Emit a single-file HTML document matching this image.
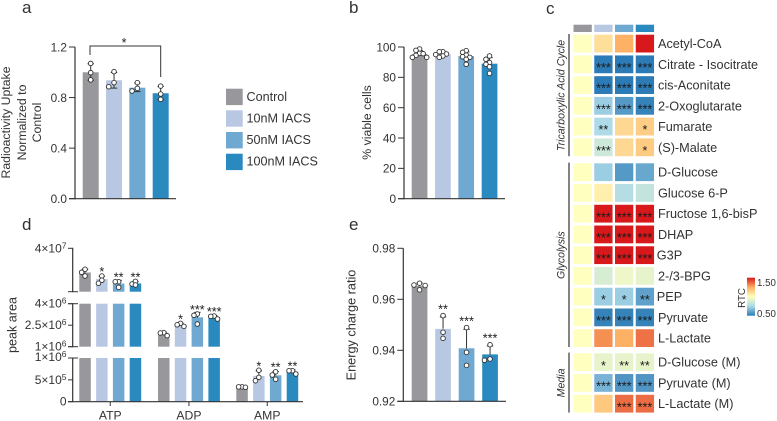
<!DOCTYPE html>
<html lang="en">
<head>
<meta charset="utf-8">
<title>IACS metabolic figure</title>
<style>
html,body{margin:0;padding:0;background:#fff;width:777px;height:421px;overflow:hidden}
svg{display:block;font-family:"Liberation Sans",sans-serif;fill:#333}
</style>
</head>
<body>
<svg id="fig" xmlns="http://www.w3.org/2000/svg" width="777" height="421" viewBox="0 0 777 421">
  <defs>
    <linearGradient id="rtc-gradient" x1="0" y1="1" x2="0" y2="0">
      <stop offset="0" stop-color="#2c7bb6"/>
      <stop offset="0.25" stop-color="#abd9e9"/>
      <stop offset="0.5" stop-color="#ffffbf"/>
      <stop offset="0.75" stop-color="#fdae61"/>
      <stop offset="1" stop-color="#d7191c"/>
    </linearGradient>
  </defs>
  <text x="22" y="13" font-size="17">a</text>
  <text x="349" y="13" font-size="17">b</text>
  <text x="546" y="14" font-size="17">c</text>
  <text x="22" y="230" font-size="17">d</text>
  <text x="349" y="230" font-size="17">e</text>

  <g font-size="12.3" text-anchor="middle">
    <text transform="translate(10,122.5) rotate(-90)">Radioactivity Uptake</text>
    <text transform="translate(26,122.5) rotate(-90)">Normalized to</text>
    <text transform="translate(41,122.5) rotate(-90)">Control</text>
  </g>
  <text font-size="12.3" text-anchor="middle" transform="translate(371,122.5) rotate(-90)">% viable cells</text>
  <text font-size="12.6" text-anchor="middle" transform="translate(16.5,325) rotate(-90)">peak area</text>
  <text font-size="12.7" text-anchor="middle" transform="translate(355.5,325) rotate(-90)">Energy charge ratio</text>

  <g font-size="12.6">
    <g><rect x="226" y="88.7" width="16.7" height="16.4" fill="#98979c"/><text x="246.5" y="101">Control</text></g>
    <g><rect x="226" y="110.3" width="16.7" height="16.4" fill="#b9c8e2"/><text x="246.5" y="122.5">10nM IACS</text></g>
    <g><rect x="226" y="132" width="16.7" height="16.4" fill="#6fa8d1"/><text x="246.5" y="144">50nM IACS</text></g>
    <g><rect x="226" y="153.7" width="16.7" height="16.4" fill="#2a8abf"/><text x="246.5" y="165.5">100nM IACS</text></g>
  </g>

  <g>
    <rect x="747" y="277.7" width="8" height="38" fill="url(#rtc-gradient)"/>
    <text x="757" y="286" font-size="9.7">1.50</text>
    <text x="757" y="317" font-size="9.7">0.50</text>
    <text font-size="9.7" text-anchor="middle" transform="translate(745,298) rotate(-90)">RTC</text>
  </g>
  <g id="layer"></g>
</svg>
<script>
const groupNames = ['Control', '10nM IACS', '50nM IACS', '100nM IACS'];

// Panel a
const aTicks = [0, 0.4, 0.8, 1.2];
const aMeans = [1.0, 0.937, 0.878, 0.834];
const aPoints = [
  [1.07, 0.997, 0.94],
  [0.886, 1.005, 0.918],
  [0.852, 0.918, 0.873],
  [0.891, 0.828, 0.786]
];

// Panel b
const bTicks = [0, 20, 40, 60, 80, 100];
const bMeans = [95.3, 95.3, 94, 89];
const bPoints = [
  [97.8, 98.7, 95.8, 93.2, 95.6, 93.2, 94.5],
  [94.1, 96.9, 96.9, 95.4, 93.2, 95],
  [94.7, 97.6, 96.5, 93.2, 93.6, 91.9, 88.6],
  [94.1, 89.7, 91.9, 88.6, 82.6, 87]
];

// Panel d
const dMetabolites = ['ATP', 'ADP', 'AMP'];
const dMeans = [
  [19.9e6, 14.5e6, 10.7e6, 10.9e6],
  [1.88e6, 2.53e6, 3.05e6, 3.07e6],
  [3.36e5, 5.9e5, 6.03e5, 6.84e5]
];
const dPoints = [
  [[22.6e6, 20.1e6, 17.0e6], [17.0e6, 13.5e6, 11.0e6], [12.3e6, 12.3e6, 7.6e6], [12.6e6, 9.6e6, 10.4e6]],
  [[1.77e6, 1.98e6, 1.96e6], [2.42e6, 2.63e6, 2.53e6], [3.28e6, 3.19e6, 2.58e6], [2.93e6, 3.14e6, 3.12e6]],
  [[3.3e5, 3.4e5, 3.4e5], [4.8e5, 7.19e5, 5.58e5], [6.86e5, 5.13e5, 6.11e5], [6.34e5, 7.09e5, 7.09e5]]
];
const dStars = [
  ['', '*', '**', '**'],
  ['', '*', '***', '***'],
  ['', '*', '**', '**']
];

// Panel e
const eTicks = [0.92, 0.94, 0.96, 0.98];
const eMeans = [0.9652, 0.9484, 0.9408, 0.9384];
const ePoints = [
  [0.9663, 0.9637, 0.9656, 0.9654],
  [0.9536, 0.9471, 0.9447],
  [0.9489, 0.9392, 0.9341],
  [0.9422, 0.9361, 0.9366]
];
const eStars = ['', '**', '***', '***'];

// Panel c
const heatLabels = ['Acetyl-CoA', 'Citrate - Isocitrate', 'cis-Aconitate', '2-Oxoglutarate', 'Fumarate', '(S)-Malate',
  'D-Glucose', 'Glucose 6-P', 'Fructose 1,6-bisP', 'DHAP', 'G3P', '2-/3-BPG', 'PEP', 'Pyruvate', 'L-Lactate',
  'D-Glucose (M)', 'Pyruvate (M)', 'L-Lactate (M)'];
const heatValues = [
  [1, 1.1, 1.24, 1.5],
  [1, 0.5, 0.5, 0.5],
  [1, 0.5, 0.5, 0.5],
  [1, 0.72, 0.58, 0.52],
  [1, 0.76, 1.12, 1.15],
  [1, 0.85, 1.12, 1.16],
  [1, 0.72, 0.58, 0.62],
  [1, 1.05, 0.78, 0.82],
  [1, 1.5, 1.5, 1.5],
  [1, 1.5, 1.5, 1.5],
  [1, 1.5, 1.5, 1.5],
  [1, 0.88, 0.95, 0.93],
  [1, 0.72, 0.72, 0.6],
  [1, 0.52, 0.52, 0.52],
  [1, 1.3, 1.24, 1.35],
  [1, 0.93, 0.93, 0.93],
  [1, 0.65, 0.57, 0.57],
  [1, 1.17, 1.36, 1.36]
];
const heatStars = [
  ['', '', '', ''],
  ['', '***', '***', '***'],
  ['', '***', '***', '***'],
  ['', '***', '***', '***'],
  ['', '**', '', '*'],
  ['', '***', '', '*'],
  ['', '', '', ''],
  ['', '', '', ''],
  ['', '***', '***', '***'],
  ['', '***', '***', '***'],
  ['', '***', '***', '***'],
  ['', '', '', ''],
  ['', '*', '*', '**'],
  ['', '***', '***', '***'],
  ['', '', '', ''],
  ['', '*', '**', '**'],
  ['', '***', '***', '***'],
  ['', '', '***', '***']
];
const heatSections = [
  {name: 'Tricarboxylic Acid Cycle', count: 6},
  {name: 'Glycolysis', count: 9},
  {name: 'Media', count: 3}
];

const barColors = ['#98979c', '#b9c8e2', '#6fa8d1', '#2a8abf'];
const inkColor = '#333';
const SVGNS = 'http://www.w3.org/2000/svg';
const layer = document.getElementById('layer');

function mk(tag, attrs) {
  const el = document.createElementNS(SVGNS, tag);
  for (const k in attrs) el.setAttribute(k, attrs[k]);
  layer.appendChild(el);
  return el;
}
function line(x1, y1, x2, y2, name, width) {
  const el = mk('line', {x1, y1, x2, y2, stroke: inkColor, 'stroke-width': width || 1});
  
  
  return el;
}
function label(x, y, str, name, size, anchor) {
  const el = mk('text', {x, y, 'font-size': size || 12, 'text-anchor': anchor || 'start'});
  el.textContent = str;
  
  
  return el;
}
function bar(x, w, y0, y1, color) {
  const el = mk('rect', {x, y: y1, width: w, height: y0 - y1, fill: color});
  
  
  return el;
}
function stars(cx, cy, str) {
  const el = mk('text', {x: cx, y: cy + 7, 'font-size': 12.5, 'text-anchor': 'middle', fill: '#1a1a1a'});
  el.textContent = str;
  
  
  return el;
}
function dot(cx, cy) {
  const el = mk('circle', {cx, cy, r: 2.3, fill: '#fff', stroke: inkColor, 'stroke-width': 0.9});
  
  
  return el;
}
function mean(a) { return a.reduce((s, v) => s + v, 0) / a.length; }
function sd(a) {
  const m = mean(a);
  return Math.sqrt(a.reduce((s, v) => s + (v - m) * (v - m), 0) / (a.length - 1));
}
function errorBar(cx, pts, y, both) {
  const m = mean(pts), s = sd(pts);
  line(cx, y(m + s), cx, y(both ? m - s : m), 'error-bar', 1);
  line(cx - 3.2, y(m + s), cx + 3.2, y(m + s), 'error-cap', 1);
  if (both) line(cx - 3.2, y(m - s), cx + 3.2, y(m - s), 'error-cap', 1);
}
// Beeswarm: a point stays centred unless it would overlap one already placed.
function swarm(pts, y, cx, step, gap) {
  const placed = [];
  const order = pts.slice().sort((a, b) => b - a);
  order.forEach(v => {
    const py = y(v);
    const slots = [0, -1, 1, -2, 2, -3, 3];
    for (const s of slots) {
      const px = cx + s * step;
      if (!placed.some(p => Math.abs(p.x - px) < step * 0.9 && Math.abs(p.y - py) < gap)) {
        placed.push({x: px, y: py});
        break;
      }
    }
  });
  placed.forEach(p => dot(p.x, p.y));
}
function linearAxis(d0, d1, r0, r1) {
  return v => r0 + (v - d0) / (d1 - d0) * (r1 - r0);
}

function simplePanel(o) {
  const y = o.y;
  o.means.forEach((m, i) => {
    const x = o.left + i * o.pitch;
    bar(x, o.width, y(o.ticks[0]), y(m), barColors[i]);
  });
  o.points.forEach((pts, i) => {
    const cx = o.left + i * o.pitch + o.width / 2;
    errorBar(cx, pts, y, o.both);
    swarm(pts, y, cx, o.step, o.gap);
    if (o.stars && o.stars[i]) stars(cx, y(Math.max.apply(null, pts)) - o.starGap, o.stars[i]);
  });
  line(o.axisX, y(o.ticks[0]) + 0.5, o.axisX, y(o.ticks[o.ticks.length - 1]), 'y-axis', 1.2);
  line(o.axisX - 6, y(o.ticks[0]), o.xEnd, y(o.ticks[0]), 'x-axis', 1.2);
  o.ticks.forEach(t => {
    line(o.axisX - 6, y(t), o.axisX, y(t), 'y-tick', 1);
    label(o.axisX - 8, y(t) + 4.3, t.toFixed(o.decimals), 'y-tick-label', 11.8, 'end');
  });
}

// Panel a
const aY = linearAxis(0, 1.2, 198.7, 47);
simplePanel({y: aY, means: aMeans, points: aPoints, ticks: aTicks, left: 82.7, pitch: 23.33, width: 16,
  axisX: 75, xEnd: 176, decimals: 1, both: true, step: 5.3, gap: 5});
const bracketPath = mk('path', {d: 'M90 55V46H160.7V77', fill: 'none', stroke: inkColor, 'stroke-width': 1});


stars(124, 40, '*');

// Panel b
const bY = linearAxis(0, 100, 198.7, 47);
simplePanel({y: bY, means: bMeans, points: bPoints, ticks: bTicks, left: 411.7, pitch: 23.33, width: 15.7,
  axisX: 404, xEnd: 505, decimals: 0, both: false, step: 3.6, gap: 4});

// Panel e
const eY = linearAxis(0.92, 0.98, 401.3, 248.3);
simplePanel({y: eY, means: eMeans, points: ePoints, ticks: eTicks, left: 411.7, pitch: 23.5, width: 15.7,
  axisX: 403.3, xEnd: 506, decimals: 2, both: false, step: 5.6, gap: 4.5, stars: eStars, starGap: 9});

// Panel d: three-segment broken axis
const dSegments = [
  {min: 0, max: 1e6, bottom: 401.7, top: 358},
  {min: 1e6, max: 4e6, bottom: 346.7, top: 303.7},
  {min: 4e6, max: 4e7, bottom: 291.7, top: 248.3}
];
function dSegY(seg, v) { return linearAxis(seg.min, seg.max, seg.bottom, seg.top)(v); }
function dY(v) {
  const seg = dSegments.find(s => v <= s.max) || dSegments[2];
  return dSegY(seg, v);
}
const dLeft = [79.3, 158, 236.3];
const dPitch = 16.8, dWidth = 11.5, dAxisX = 72.7;
dMeans.forEach((groupMeans, g) => {
  groupMeans.forEach((m, i) => {
    const x = dLeft[g] + i * dPitch;
    dSegments.forEach(seg => {
      if (m > seg.min) bar(x, dWidth, seg.bottom, dSegY(seg, Math.min(m, seg.max)), barColors[i]);
    });
  });
});
dPoints.forEach((groupPts, g) => {
  groupPts.forEach((pts, i) => {
    const cx = dLeft[g] + i * dPitch + dWidth / 2;
    errorBar(cx, pts, dY, false);
    swarm(pts, dY, cx, 3.4, 3.5);
    if (dStars[g][i]) stars(cx, dY(Math.max.apply(null, pts)) - 7, dStars[g][i]);
  });
});
dSegments.forEach(seg => {
  line(dAxisX, seg.bottom + 0.5, dAxisX, seg.top - 0.5, 'y-axis-segment', 1.2);
});
const dTickValues = [
  {seg: 2, v: 4e7, m: '4×10', e: '7'},
  {seg: 1, v: 4e6, m: '4×10', e: '6'},
  {seg: 1, v: 2.5e6, m: '2.5×10', e: '6'},
  {seg: 1, v: 1e6, m: '1×10', e: '6'},
  {seg: 0, v: 1e6, m: '1×10', e: '6'},
  {seg: 0, v: 5e5, m: '5×10', e: '5'},
  {seg: 0, v: 0, m: '0', e: ''}
];
dTickValues.forEach(t => {
  const yy = dSegY(dSegments[t.seg], t.v);
  line(68, yy, dAxisX, yy, 'y-tick', 1);
  const el = label(66.5, yy + 4 - (t.v === 1e6 && t.seg === 0 ? 1 : 0), t.m, 'y-tick-label', 12, 'end');
  if (t.e) {
    const sup = document.createElementNS(SVGNS, 'tspan');
    sup.setAttribute('dy', '-4');
    sup.setAttribute('font-size', '8.5');
    sup.textContent = t.e;
    el.appendChild(sup);
  }
});
line(68, dSegments[2].bottom, 78, dSegments[2].bottom, 'axis-break-tick', 1);
line(68, dSegments[1].top, 78, dSegments[1].top, 'axis-break-tick', 1);
line(68, dSegments[1].bottom, 78, dSegments[1].bottom, 'axis-break-tick', 1);
line(68, dSegments[0].top, 78, dSegments[0].top, 'axis-break-tick', 1);
line(68, 401.7, 303, 401.7, 'x-axis', 1.2);
dMetabolites.forEach((name, g) => {
  const cx = dLeft[g] + 1.5 * dPitch + dWidth / 2;
  line(cx, 401.7, cx, 406, 'x-tick', 1);
  label(cx, 419.5, name, 'x-tick-label', 12.2, 'middle');
});

// Panel c: heatmap
const colorStops = [[44, 123, 182], [171, 217, 233], [255, 255, 191], [253, 174, 97], [215, 25, 28]];
function heatColor(v) {
  const t = Math.max(0, Math.min(1, (v - 0.5) / 1)) * (colorStops.length - 1);
  const i = Math.min(colorStops.length - 2, Math.floor(t));
  const f = t - i;
  const c = colorStops[i].map((a, k) => Math.round(a + (colorStops[i + 1][k] - a) * f));
  return 'rgb(' + c.join(',') + ')';
}
const cellX0 = 573.5, cellPitchX = 20.75, cellW = 18.3, cellH = 17.8, rowPitch = 20.74;
const sectionTops = [34.7, 163.3, 353.3];
barColors.forEach((c, j) => {
  const el = mk('rect', {x: cellX0 + j * cellPitchX, y: 24.7, width: cellW, height: 7.3, fill: c});
  
  
});
let rowIndex = 0;
heatSections.forEach((sec, s) => {
  const top = sectionTops[s];
  const bottom = top + sec.count * rowPitch - (rowPitch - cellH);
  line(569, top - 0.7, 569, bottom, 'section-bracket', 1.2);
  const sectionLabel = mk('text', {
    'font-size': 10.6, 'font-style': 'italic', 'text-anchor': 'middle',
    transform: 'translate(564.5,' + ((top + bottom) / 2) + ') rotate(-90)'
  });
  sectionLabel.textContent = sec.name;
  
  
  for (let r = 0; r < sec.count; r++) {
    const y = top + r * rowPitch;
    heatValues[rowIndex].forEach((v, j) => {
      const x = cellX0 + j * cellPitchX;
      const cell = mk('rect', {x, y, width: cellW, height: cellH, fill: heatColor(v)});
      
      
      if (heatStars[rowIndex][j]) stars(x + cellW / 2, y + cellH / 2 + 0.6, heatStars[rowIndex][j]);
    });
    const name = heatLabels[rowIndex];
    const tight = name === 'G3P' || name === 'PEP';
    label(tight ? 656.8 : 658, y + 13.4, name, 'row-label', 12.7);
    rowIndex++;
  }
});
</script>
</body>
</html>
